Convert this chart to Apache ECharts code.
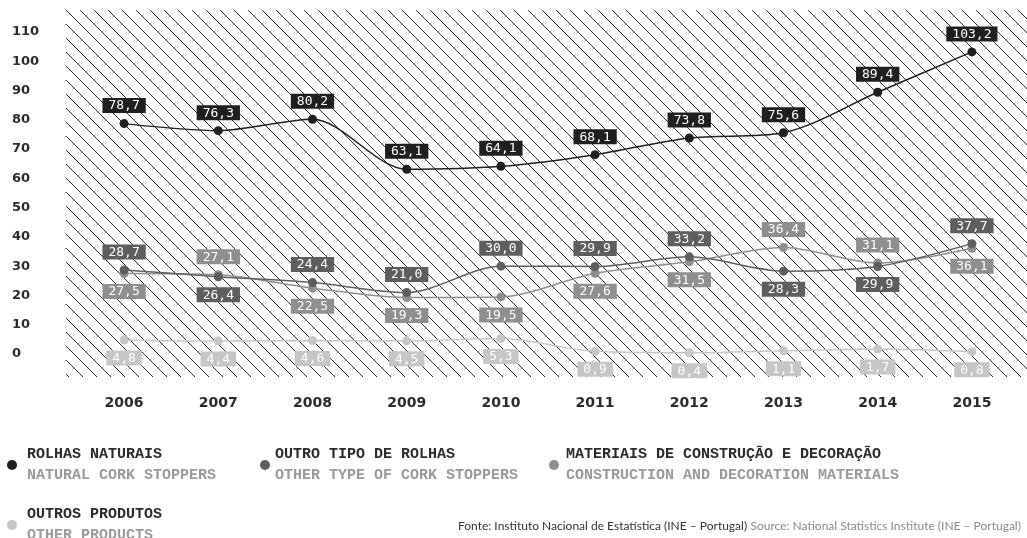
<!DOCTYPE html>
<html>
<head>
<meta charset="utf-8">
<script src="https://cdn.jsdelivr.net/npm/echarts@6/dist/echarts.min.js"></script>
<style>
  html, body { margin: 0; padding: 0; background: #ffffff; }
  #chart { width: 1027px; height: 538px; }
</style>
</head>
<body>
<div id="chart"></div>
<script>
// Exportações de cortiça por tipo de produto (valores por ano)
const years = ['2006', '2007', '2008', '2009', '2010', '2011', '2012', '2013', '2014', '2015'];
const rolhasNaturais = [78.7, 76.3, 80.2, 63.1, 64.1, 68.1, 73.8, 75.6, 89.4, 103.2];
const outroTipoRolhas = [28.7, 26.4, 24.4, 21.0, 30.0, 29.9, 33.2, 28.3, 29.9, 37.7];
const materiaisConstrucao = [27.5, 27.1, 22.5, 19.3, 19.5, 27.6, 31.5, 36.4, 31.1, 36.1];
const outrosProdutos = [4.8, 4.4, 4.6, 4.5, 5.3, 0.9, 0.4, 1.1, 1.7, 0.8];

const namesPt = ['ROLHAS NATURAIS', 'OUTRO TIPO DE ROLHAS', 'MATERIAIS DE CONSTRUÇÃO E DECORAÇÃO', 'OUTROS PRODUTOS'];
const namesEn = ['NATURAL CORK STOPPERS', 'OTHER TYPE OF CORK STOPPERS', 'CONSTRUCTION AND DECORATION MATERIALS', 'OTHER PRODUCTS'];

const yMin = 0, yMax = 110, yStep = 10;
const sourcePt = 'Fonte: Instituto Nacional de Estatística (INE – Portugal)';
const sourceEn = 'Source: National Statistics Institute (INE – Portugal)';

const colors = ['#1f1f1f', '#5e5e5e', '#8f8f8f', '#c6c6c6'];

// diagonal hatch tile for the plot background
function hatchTile() {
  const s = 14;
  const c = document.createElement('canvas');
  c.width = s; c.height = s;
  const g = c.getContext('2d');
  g.strokeStyle = '#2a2a2a';
  g.lineWidth = 1;
  [-s, 0, s].forEach(function (o) {
    g.beginPath();
    g.moveTo(o - 1, -1);
    g.lineTo(o + s + 1, s + 1);
    g.stroke();
  });
  return c;
}

const fmt = v => v.toFixed(1).replace('.', ',');

// each point carries its own label side
function withLabels(values, sideFn, color) {
  return values.map((v, i) => ({
    value: v,
    label: { position: sideFn(i), backgroundColor: color }
  }));
}

// drawing order: darker series on top
const seriesZ = [6, 5, 4, 3];

function makeSeries(idx, values, sideFn) {
  return {
    name: namesPt[idx],
    type: 'line',
    smooth: 0.3,
    symbol: 'circle',
    symbolSize: 9,
    z: seriesZ[idx],
    lineStyle: { color: colors[idx], width: 1.5 },
    itemStyle: { color: colors[idx] },
    label: {
      show: true,
      distance: 6,
      color: '#ffffff',
      fontFamily: 'DejaVu Sans Mono',
      fontSize: 13,
      lineHeight: 14,
      padding: [1, 6, 0, 6],
      backgroundColor: colors[idx],
      formatter: p => fmt(p.value)
    },
    data: withLabels(values, sideFn, colors[idx])
  };
}

function legendFor(idx, left, top, itemWidth) {
  return {
    data: [namesPt[idx]],
    left: left,
    top: top,
    padding: 0,
    icon: 'circle',
    itemWidth: itemWidth,
    itemHeight: 10,
    selectedMode: false,
    formatter: name => '{t|' + name + '}\n{s|' + namesEn[namesPt.indexOf(name)] + '}',
    textStyle: {
      rich: {
        t: { fontFamily: 'Liberation Mono', fontWeight: 'bold', fontSize: 15, lineHeight: 21, color: '#2b2b2b' },
        s: { fontFamily: 'Liberation Mono', fontWeight: 'bold', fontSize: 15, lineHeight: 21, color: '#9a9a9a' }
      }
    }
  };
}

const chart = echarts.init(document.getElementById('chart'), null, { renderer: 'canvas' });

chart.setOption({
  animation: false,
  backgroundColor: '#ffffff',
  grid: { left: 77, right: 8, top: 32, bottom: 184, containLabel: false },
  graphic: [
    {
      type: 'rect',
      z: -10,
      silent: true,
      shape: { x: 66, y: 10, width: 961, height: 367 },
      style: { fill: { image: hatchTile(), repeat: 'repeat' } }
    },
    {
      type: 'text',
      left: 458,
      top: 520,
      silent: true,
      style: {
        text: '{a|' + sourcePt + '} {b|' + sourceEn + '}',
        rich: {
          a: { fontFamily: 'Lato', fontSize: 12, fill: '#333333' },
          b: { fontFamily: 'Lato', fontSize: 12, fill: '#8a8a8a' }
        }
      }
    }
  ],
  legend: [
    legendFor(0, 7, 447, 20),
    legendFor(1, 260, 447, 10),
    legendFor(2, 549, 447, 14),
    legendFor(3, 7, 507, 20)
  ],
  xAxis: {
    type: 'category',
    data: years,
    boundaryGap: true,
    axisLine: { show: false },
    axisTick: { show: false },
    splitLine: { show: false },
    axisLabel: {
      margin: 42,
      fontFamily: 'DejaVu Sans',
      fontWeight: 'bold',
      fontSize: 14,
      color: '#2b2b2b'
    }
  },
  yAxis: {
    type: 'value',
    min: yMin,
    max: yMax,
    interval: yStep,
    axisLine: { show: false },
    axisTick: { show: false },
    splitLine: { show: false },
    axisLabel: {
      margin: 65,
      align: 'left',
      fontFamily: 'DejaVu Sans',
      fontWeight: 'bold',
      fontSize: 13,
      color: '#2b2b2b'
    }
  },
  series: [
    makeSeries(3, outrosProdutos, () => 'bottom'),
    makeSeries(2, materiaisConstrucao, i => materiaisConstrucao[i] > outroTipoRolhas[i] ? 'top' : 'bottom'),
    makeSeries(1, outroTipoRolhas, i => outroTipoRolhas[i] >= materiaisConstrucao[i] ? 'top' : 'bottom'),
    makeSeries(0, rolhasNaturais, () => 'top')
  ]
});
</script>
</body>
</html>
